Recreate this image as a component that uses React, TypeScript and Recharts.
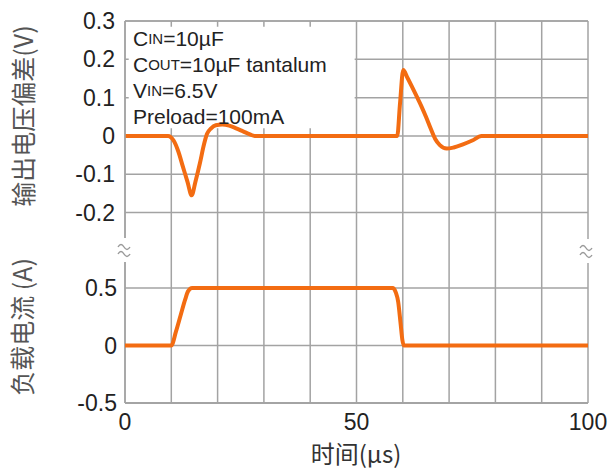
import React from 'react';
import { LineChart, Line, XAxis, YAxis, CartesianGrid, ReferenceArea } from 'recharts';

// 输出电压偏差 (V) vs time (µs)
const voltTime = [0, 9.3, 10.5, 11.5, 12.5, 13.5, 14.4, 15.2, 16.2, 17.0, 17.7, 18.6, 19.6, 21.0, 22.5, 24.0, 25.5, 27.0, 28.0,
  58.8, 59.4, 60.1, 61.0, 62.0, 63.0, 64.0, 65.0, 66.0, 67.0, 68.0, 69.5, 71.0, 73.0, 75.0, 77.0, 100];
const voltValues = [0, 0, -0.012, -0.04, -0.08, -0.12, -0.155, -0.12, -0.07, -0.025, 0.005, 0.02, 0.028, 0.03, 0.027, 0.02, 0.012, 0.004, 0,
  0, 0.085, 0.172, 0.152, 0.128, 0.103, 0.078, 0.05, 0.02, -0.008, -0.024, -0.033, -0.03, -0.022, -0.012, 0, 0];

// 负载电流 (A) vs time (µs)
const currTime = [0, 10.0, 11.0, 12.0, 13.0, 13.6, 14.5, 57.8, 58.5, 59.0, 59.5, 59.9, 60.2, 100];
const currValues = [0, 0, 0.12, 0.26, 0.4, 0.47, 0.5, 0.5, 0.46, 0.38, 0.2, 0.05, 0, 0];

const xTicks = [0, 50, 100];
const xGrid = [0, 10, 20, 30, 40, 50, 60, 70, 80, 90, 100];
const voltTicks = [-0.2, -0.1, 0, 0.1, 0.2, 0.3];
const currTicks = [-0.5, 0, 0.5];
const notes = ['C|IN|=10µF', 'C|OUT|=10µF tantalum', 'V|IN|=6.5V', 'Preload=100mA'];

const voltData = voltTime.map((t, i) => ({ t, v: voltValues[i] }));
const currData = currTime.map((t, i) => ({ t, a: currValues[i] }));

const W = 614;
const H = 470;
const margin = { top: 21, right: 26, bottom: 0, left: 0 };
const grid = '#a3a3a3';
const orange = '#f36c12';
const font = '"Liberation Sans", Arial, sans-serif';
const cjk = '"Noto Sans CJK SC", "Liberation Sans", sans-serif';

const tickStyle = { fontSize: 23, fill: '#222', fontFamily: font };

function Break({ x, y }: { x: number; y: number }) {
  return (
    <g>
      <rect x={x - 8} y={y - 12} width={16} height={24} fill="#fff" />
      <path d={`M${x - 6} ${y - 3} q3 -5 6 0 t6 0 M${x - 6} ${y + 4} q3 -5 6 0 t6 0`} stroke="#999" strokeWidth={1.4} fill="none" />
    </g>
  );
}

export default function App() {
  return (
    <div style={{ position: 'absolute', left: 0, top: 0, width: W, height: H, background: '#fff' }}>
      <div style={{ position: 'absolute', left: 0, top: 0 }}>
        <LineChart width={W} height={H} data={voltData} margin={margin}>
          <CartesianGrid stroke={grid} strokeWidth={1.5} />
          <XAxis dataKey="t" type="number" domain={[0, 100]} ticks={xGrid} height={67} tick={() => <g />} axisLine={false} tickLine={false} />
          <YAxis
            type="number"
            domain={[-0.697, 0.3]}
            ticks={voltTicks}
            width={125}
            tickLine={false}
            tickSize={0}
            tickMargin={10}
            axisLine={{ stroke: grid, strokeWidth: 1.5 }}
            tick={tickStyle}
            label={{
              content: () => (
                <text x={22} y={116} transform="rotate(-90 22 116)" textAnchor="middle" dominantBaseline="central"
                  fontSize={25} fill="#555" fontFamily={cjk}>输出电压偏差(V)</text>
              ),
            }}
          />
          <ReferenceArea x1={0.8} x2={49.6} y1={0.02} y2={0.285} fill="#fff" fillOpacity={1} stroke="none" ifOverflow="visible" />
          <Line dataKey="v" type="monotone" stroke={orange} strokeWidth={4} dot={false} isAnimationActive={false} />
        </LineChart>
      </div>
      <div style={{ position: 'absolute', left: 0, top: 0 }}>
        <LineChart width={W} height={H} data={currData} margin={margin}>
          <CartesianGrid stroke={grid} strokeWidth={1.5} vertical={false} />
          <XAxis
            dataKey="t"
            type="number"
            domain={[0, 100]}
            ticks={xTicks}
            height={67}
            tickLine={false}
            tickSize={0}
            tickMargin={11}
            axisLine={{ stroke: grid, strokeWidth: 1.5 }}
            tick={tickStyle}
            label={{
              content: () => (
                <text x={356} y={452} textAnchor="middle" dominantBaseline="central" fontSize={24} fill="#333" fontFamily={cjk}>时间(µs)</text>
              ),
            }}
          />
          <YAxis
            type="number"
            domain={[-0.5, 2.82]}
            ticks={currTicks}
            width={125}
            tickLine={false}
            tickSize={0}
            tickMargin={8}
            axisLine={false}
            tick={tickStyle}
            label={{
              content: () => (
                <g>
                  <text x={21} y={327} transform="rotate(-90 21 327)" textAnchor="middle" dominantBaseline="central"
                    fontSize={25} fill="#555" fontFamily={cjk}>负载电流 (A)</text>
                  <Break x={124} y={250} />
                  <Break x={586} y={251} />
                  <text x={133} y={38} fontSize={21} fill="#222" fontFamily={font} dominantBaseline="central">
                    {notes.map((n, i) => {
                      const parts = n.split('|');
                      return (
                        <tspan key={i} x={133} y={38 + i * 26}>
                          {parts[0]}
                          {parts[1] ? <tspan fontSize={15}>{parts[1]}</tspan> : null}
                          {parts[2] ?? ''}
                        </tspan>
                      );
                    })}
                  </text>
                </g>
              ),
            }}
          />
          <Line dataKey="a" type="monotone" stroke={orange} strokeWidth={4} dot={false} isAnimationActive={false} />
        </LineChart>
      </div>
    </div>
  );
}
